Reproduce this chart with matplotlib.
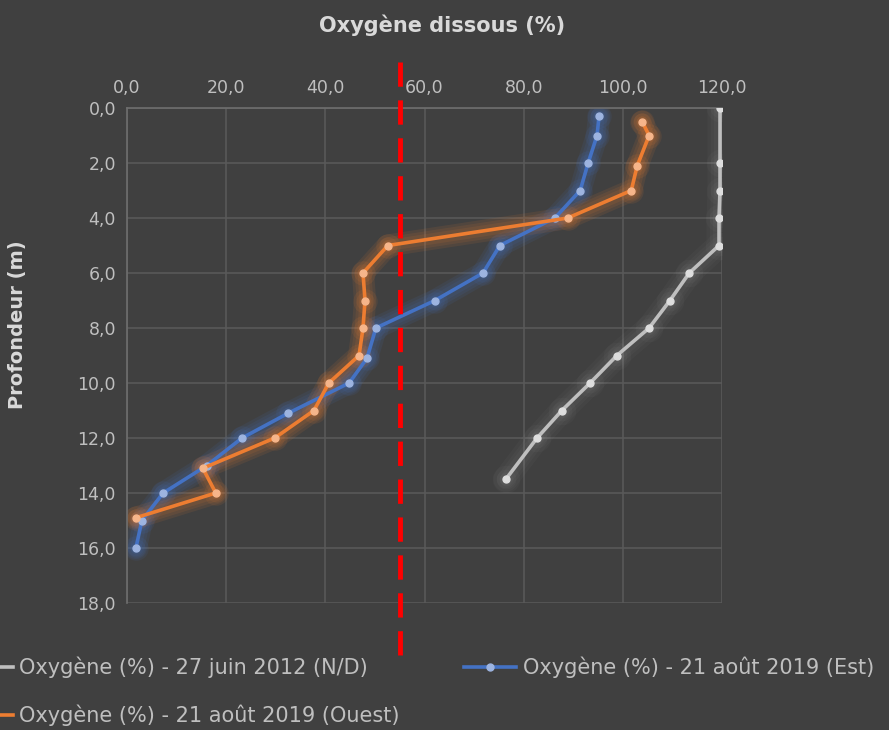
import matplotlib.pyplot as plt
from matplotlib.ticker import FuncFormatter

BG = "#404040"
GRID = "#595959"
TXT = "#bfbfbf"

# 27 juin 2012 (N/D)
depth_2012 = [0.0, 2.0, 3.0, 4.0, 5.0, 6.0, 7.0, 8.0, 9.0, 10.0, 11.0, 12.0, 13.5]
oxy_2012 = [119.6, 119.6, 119.6, 119.4, 119.4, 113.4, 109.5, 105.3, 98.8, 93.4, 87.7, 82.7, 76.4]

# 21 aout 2019 (Est)
depth_est = [0.3, 1.0, 2.0, 3.0, 4.0, 5.0, 6.0, 7.0, 8.0, 9.1, 10.0, 11.1, 12.0, 13.0, 14.0, 15.0, 16.0]
oxy_est = [95.2, 94.8, 93.0, 91.4, 86.3, 75.2, 71.8, 62.1, 50.2, 48.4, 44.8, 32.5, 23.2, 16.1, 7.3, 3.0, 1.8]

# 21 aout 2019 (Ouest)
depth_ouest = [0.5, 1.0, 2.1, 3.0, 4.0, 5.0, 6.0, 7.0, 8.0, 9.0, 10.0, 11.0, 12.0, 13.1, 14.0, 14.9]
oxy_ouest = [103.9, 105.3, 102.9, 101.7, 88.9, 52.6, 47.6, 48.0, 47.6, 46.8, 40.7, 37.7, 29.8, 15.3, 17.9, 1.8]

SEUIL = 55.0
XTICKS = [0, 20, 40, 60, 80, 100, 120]
YTICKS = [0, 2, 4, 6, 8, 10, 12, 14, 16, 18]

LABELS = ["Oxygène (%) - 27 juin 2012 (N/D)",
          "Oxygène (%) - 21 août 2019 (Est)",
          "Oxygène (%) - 21 août 2019 (Ouest)"]

plt.rcParams["font.family"] = ["DejaVu Sans"]

fig = plt.figure(figsize=(8.89, 7.30), dpi=100, facecolor=BG)
ax = fig.add_axes([127 / 889, 1 - 603 / 730, (722 - 127) / 889, (603 - 108) / 730])
ax.set_facecolor(BG)


def glow_line(x, y, color, mcolor, glow_widths, glow_alpha, label):
    for w in glow_widths:
        ax.plot(x, y, color=color, lw=w, alpha=glow_alpha,
                solid_capstyle="round", solid_joinstyle="round", zorder=2)
        ax.plot(x, y, ls="none", marker="o", ms=w * 1.1, color=color,
                alpha=glow_alpha, mew=0, zorder=2)
    line, = ax.plot(x, y, color=color, lw=2.6, marker="o", ms=5,
                    mfc=mcolor, mec=mcolor, zorder=3, label=label)
    return line


h1 = glow_line(oxy_2012, depth_2012, "#bfbfbf", "#dedede", [18, 13, 9], 0.04, LABELS[0])
h2 = glow_line(oxy_est, depth_est, "#4472c4", "#9db4e0", [16, 12, 8], 0.10, LABELS[1])
h3 = glow_line(oxy_ouest, depth_ouest, "#ed7d31", "#f6b58a", [16, 12, 8], 0.10, LABELS[2])

# seuil (ligne rouge pointillee qui deborde du cadre)
ax.axvline(SEUIL, ymin=-0.105, ymax=1.093, color="#ff0000", lw=3.5,
           dashes=(5, 2.8), clip_on=False, zorder=4)

ax.set_xlim(0, 120)
ax.set_ylim(18, 0)
ax.set_xticks(XTICKS)
ax.set_yticks(YTICKS)
fmt = FuncFormatter(lambda v, p: f"{v:.1f}".replace(".", ","))
ax.xaxis.set_major_formatter(fmt)
ax.yaxis.set_major_formatter(fmt)
ax.xaxis.tick_top()
ax.tick_params(axis="both", length=0, colors=TXT, labelsize=12.5, pad=8)
ax.grid(True, color=GRID, lw=1.2)
ax.set_axisbelow(True)
for side in ["right", "bottom"]:
    ax.spines[side].set_visible(False)
for side in ["top", "left"]:
    ax.spines[side].set_color("#6e6e6e")
    ax.spines[side].set_linewidth(1.2)

fig.text(442 / 889, 1 - 25 / 730, "Oxygène dissous (%)", color="#d9d9d9",
         fontsize=15, fontweight="bold", ha="center", va="center")
fig.text(18 / 889, 1 - 325 / 730, "Profondeur (m)", color="#d9d9d9",
         fontsize=14, fontweight="bold", ha="center", va="center", rotation=90)

leg = fig.legend([h1, h3, h2], [LABELS[0], LABELS[2], LABELS[1]], ncol=2,
                 loc="upper left", bbox_to_anchor=(-0.044, 1 - 657 / 730),
                 frameon=False, fontsize=15, labelcolor=TXT,
                 handlelength=2.5, handletextpad=0.3, columnspacing=3.1,
                 labelspacing=1.25, borderaxespad=0, borderpad=0)

fig.savefig("out.png", dpi=100, facecolor=BG)
